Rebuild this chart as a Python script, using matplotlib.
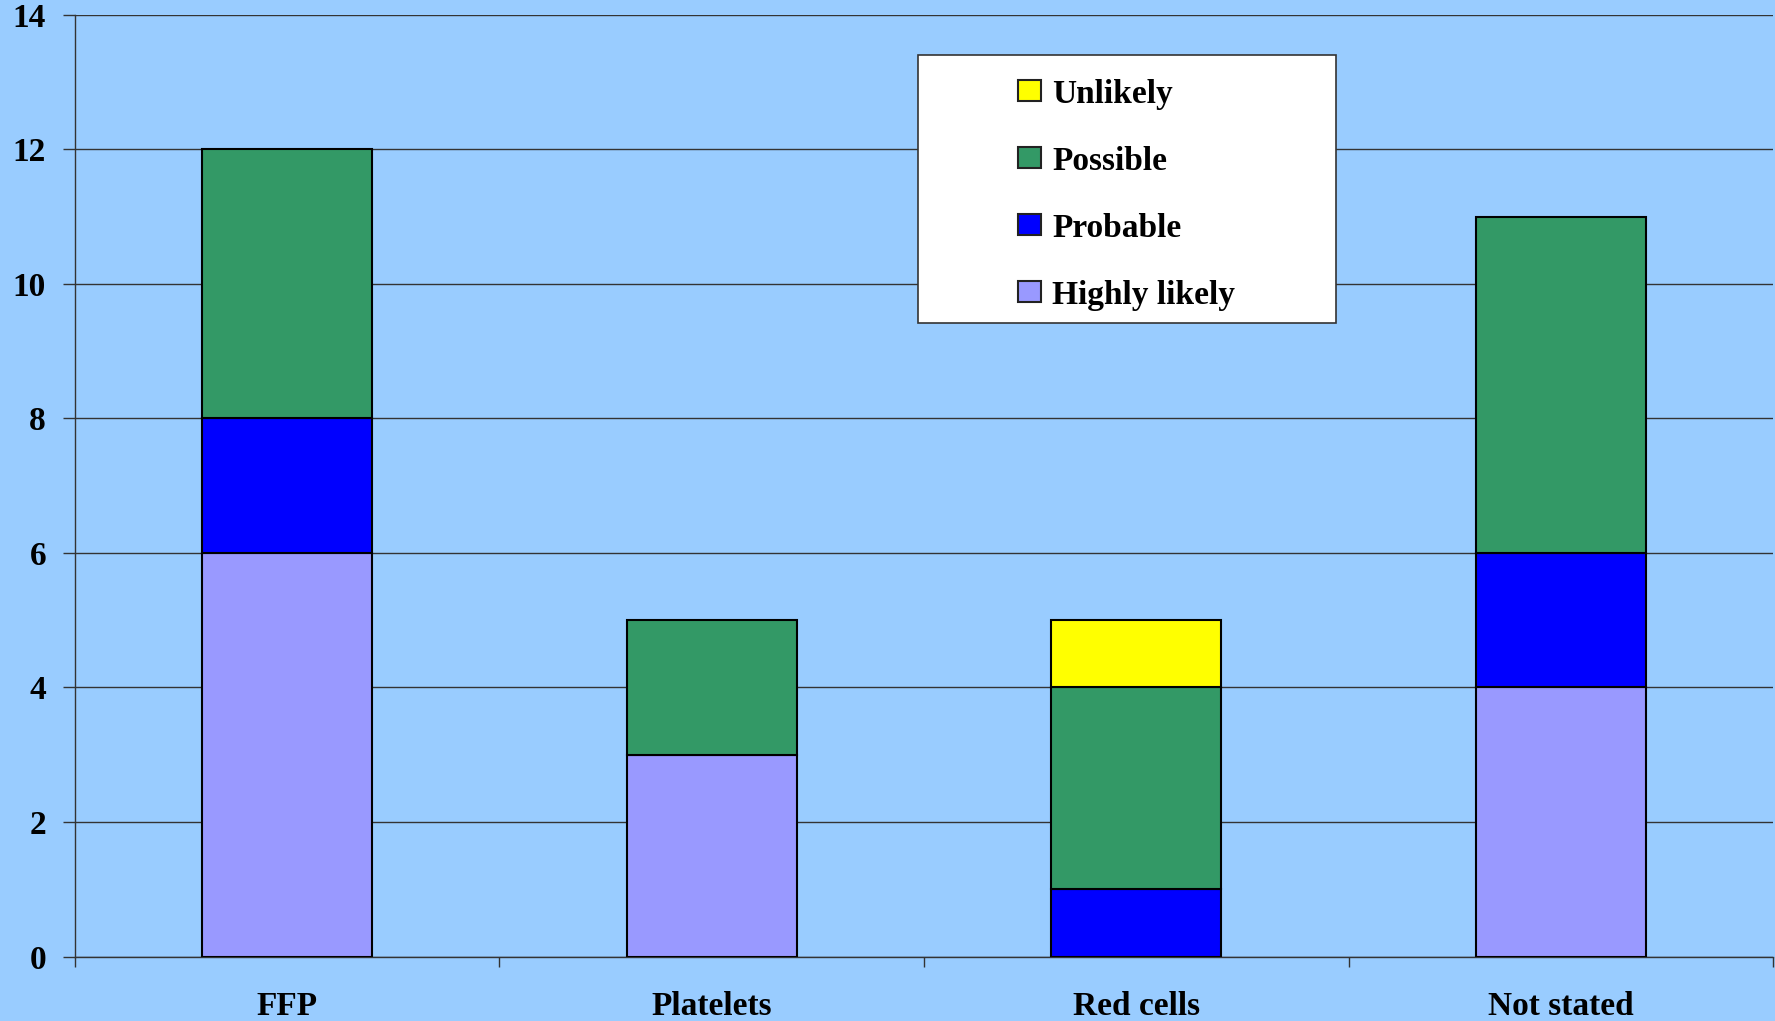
import matplotlib
matplotlib.use("Agg")
import matplotlib.pyplot as plt
from matplotlib.patches import Rectangle, Patch
import numpy as np

categories = ["FFP", "Platelets", "Red cells", "Not stated"]
highly_likely = [6, 3, 0, 4]
probable = [2, 0, 1, 2]
possible = [4, 2, 3, 5]
unlikely = [0, 0, 1, 0]
yticks = [0, 2, 4, 6, 8, 10, 12, 14]

series = [
    ("Highly likely", highly_likely, "#9999FF"),
    ("Probable", probable, "#0000FF"),
    ("Possible", possible, "#339966"),
    ("Unlikely", unlikely, "#FFFF00"),
]

BG = "#99CCFF"
FS = 24
plt.rcParams["font.family"] = ["Liberation Serif", "DejaVu Serif"]
plt.rcParams["font.weight"] = "bold"

fig = plt.figure(figsize=(17.75, 10.21), dpi=100, facecolor=BG)
ax = fig.add_axes([74.7 / 1775, 64.4 / 1021, 1 - 74.7 / 1775 - 0.001, (956.6 - 14.7) / 1021])
ax.set_facecolor(BG)

x = np.arange(len(categories))
bottom = np.zeros(len(categories))
handles = {}
for name, vals, col in series:
    vals = np.array(vals, dtype=float)
    mask = vals > 0
    ax.bar(x[mask], vals[mask], width=0.4, bottom=bottom[mask], color=col,
           edgecolor="black", linewidth=1.5, zorder=3)
    handles[name] = Patch(facecolor=col, edgecolor="#222222", linewidth=1.5)
    bottom += vals

ax.set_xlim(-0.5, len(categories) - 0.5)
ax.set_ylim(0, 14)
ax.set_yticks(yticks)
ax.set_yticklabels([str(v) for v in yticks], fontsize=FS, fontweight="bold")
ax.yaxis.grid(True, color="#333333", linewidth=1.0, zorder=0)
ax.set_axisbelow(True)

ax.set_xticks(x)
ax.set_xticklabels(categories, fontsize=FS, fontweight="bold")
ax.set_xticks(np.arange(len(categories) + 1) - 0.5, minor=True)
ax.tick_params(axis="x", which="major", length=0, pad=25)
ax.tick_params(axis="x", which="minor", length=7, width=1.0, color="#333333", direction="out")
ax.tick_params(axis="y", which="major", length=8.6, width=1.0, color="#333333", pad=12)

for s in ["top", "right"]:
    ax.spines[s].set_visible(False)
for s in ["left", "bottom"]:
    ax.spines[s].set_color("#333333")
    ax.spines[s].set_linewidth(1.0)

# legend box
fig.patches.append(Rectangle((918 / 1775, 1 - 323 / 1021), (1336 - 918) / 1775, (323 - 55) / 1021,
                             transform=fig.transFigure, facecolor="white", edgecolor="#333333",
                             linewidth=1.2, zorder=5))
order = ["Unlikely", "Possible", "Probable", "Highly likely"]
leg = fig.legend([handles[n] for n in order], order, loc="upper left",
                 bbox_to_anchor=(1018 / 1775, 1 - 78.5 / 1021), frameon=False,
                 prop={"family": "Liberation Serif", "weight": "bold", "size": FS},
                 handlelength=0.69, handleheight=0.57, handletextpad=0.33,
                 labelspacing=1.08, borderpad=0, borderaxespad=0)
leg.set_zorder(6)

fig.savefig("out.png", dpi=100, facecolor=BG)
